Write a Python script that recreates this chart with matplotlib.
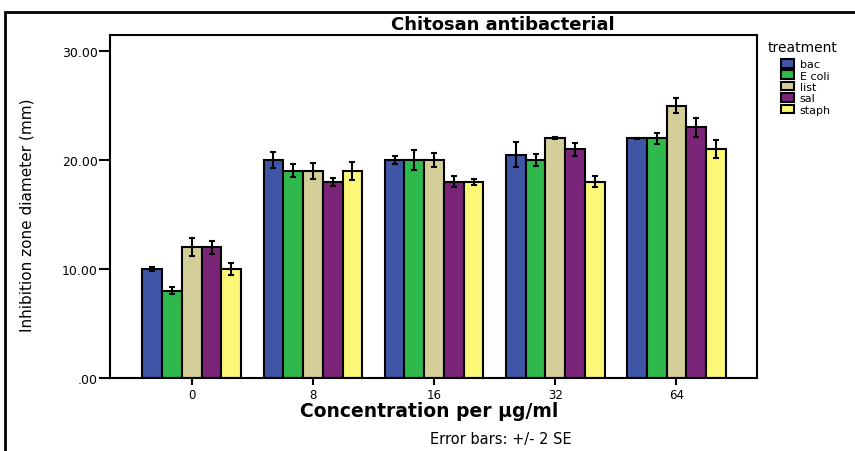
import matplotlib
matplotlib.use("Agg")
import matplotlib.pyplot as plt
import numpy as np
from matplotlib.patches import Rectangle

plt.rcParams['font.family'] = ['DejaVu Sans']

concentrations = ["0", "8", "16", "32", "64"]
treatments = ["bac", "E coli", "list", "sal", "staph"]
colors = ["#3F56A6", "#2FB84B", "#D4CF98", "#7B2579", "#FBF777"]

means = {
    "bac":    [10.0, 20.0, 20.0, 20.5, 22.0],
    "E coli": [8.0, 19.0, 20.0, 20.0, 22.0],
    "list":   [12.0, 19.0, 20.0, 22.0, 25.0],
    "sal":    [12.0, 18.0, 18.0, 21.0, 23.0],
    "staph":  [10.0, 19.0, 18.0, 18.0, 21.0],
}
errs = {
    "bac":    [0.22, 0.70, 0.35, 1.15, 0.03],
    "E coli": [0.33, 0.60, 0.95, 0.58, 0.50],
    "list":   [0.80, 0.75, 0.60, 0.10, 0.70],
    "sal":    [0.58, 0.34, 0.50, 0.60, 0.85],
    "staph":  [0.58, 0.85, 0.25, 0.50, 0.85],
}
yticks = [0, 10, 20, 30]
ytick_labels = [".00", "10.00", "20.00", "30.00"]

W, H = 855, 452
fig = plt.figure(figsize=(W/100, H/100), dpi=100)
ax = fig.add_axes([110/W, 1-379/H, (757-110)/W, (379-36)/H])

x = np.arange(len(concentrations))
bw = 0.163
for i, t in enumerate(treatments):
    pos = x + (i - 2) * bw
    ax.bar(pos, means[t], width=bw, color=colors[i], edgecolor='black',
           linewidth=1.5, label=t, zorder=2)
    ax.errorbar(pos, means[t], yerr=errs[t], fmt='none', ecolor='black',
                elinewidth=1.5, capsize=2.2, capthick=1.5, zorder=3)

ax.set_xlim(-0.675, 4.665)
ax.set_ylim(0, 31.47)
ax.set_yticks(yticks)
ax.set_yticklabels(ytick_labels, fontsize=9)
ax.set_xticks(x)
ax.set_xticklabels(concentrations, fontsize=8.5)
ax.tick_params(axis='y', direction='out', length=8, width=1.5, pad=1)
ax.tick_params(axis='x', direction='out', length=5, width=1.5, pad=2)
for s in ax.spines.values():
    s.set_linewidth(1.5)

ax.set_xlabel("Concentration per µg/ml", fontsize=13.5, fontweight='bold', va='center')
ax.xaxis.set_label_coords((429-110)/647, (379-412)/343)
ax.set_ylabel("Inhibition zone diameter (mm)", fontsize=11, va='center')
ax.yaxis.set_label_coords((27-110)/647, (379-215)/343)

fig.text(503/W, 1-25/H, "Chitosan antibacterial", ha='center', va='center',
         fontsize=13, fontweight='bold')
fig.text(501/W, 1-440/H, "Error bars: +/- 2 SE", ha='center', va='center', fontsize=10.5)

fig.text(768/W, 1-48/H, "treatment", ha='left', va='center', fontsize=10)
leg = ax.legend(loc='upper left', bbox_to_anchor=(781/W, 1-60/H),
                bbox_transform=fig.transFigure, frameon=False, fontsize=8,
                handlelength=1.2, handleheight=0.8, labelspacing=0.12,
                borderpad=0, borderaxespad=0, handletextpad=0.5)

fig.patches.append(Rectangle((5/W, -0.1), 1.2, (1-13/H)+0.1, transform=fig.transFigure,
                             fill=False, edgecolor='black', linewidth=2, zorder=0))

fig.savefig("out.png", dpi=100)
